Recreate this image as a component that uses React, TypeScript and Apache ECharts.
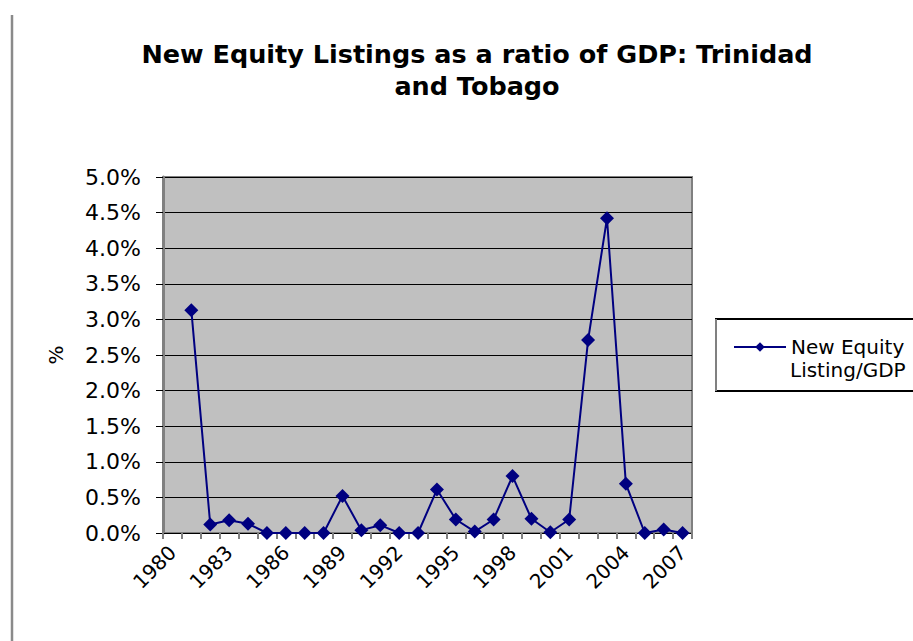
import React, { useEffect, useRef } from "react";
import * as echarts from "echarts";

// Years on the category axis
const years: string[] = [
  "1980", "1981", "1982", "1983", "1984", "1985", "1986", "1987", "1988", "1989",
  "1990", "1991", "1992", "1993", "1994", "1995", "1996", "1997", "1998", "1999",
  "2000", "2001", "2002", "2003", "2004", "2005", "2006", "2007",
];

// New equity listings as a percentage of GDP (no value for 1980)
const listingsToGdp: (number | null)[] = [
  null, 3.13, 0.12, 0.18, 0.13, 0, 0, 0, 0, 0.52,
  0.04, 0.11, 0, 0, 0.61, 0.19, 0.02, 0.19, 0.8, 0.2,
  0.01, 0.19, 2.71, 4.42, 0.69, 0, 0.05, 0,
];

const seriesName = "New Equity Listing/GDP";
const legendLines: string[] = ["New Equity", "Listing/GDP"];
const titleText = "New Equity Listings as a ratio of GDP: Trinidad\nand Tobago";

const FONT = "DejaVu Sans";

export default function App() {
  const ref = useRef<HTMLDivElement>(null);

  useEffect(() => {
    if (!ref.current) return;
    const chart = echarts.init(ref.current, null, { renderer: "svg" });
    chart.setOption({
      animation: false,
      backgroundColor: "#ffffff",
      graphic: [
        {
          type: "line",
          shape: { x1: 12, y1: 15, x2: 12, y2: 641 },
          style: { stroke: "#8a8a8a", lineWidth: 2.5 },
          silent: true,
        },
        {
          type: "text",
          x: 477,
          y: 38,
          style: {
            text: titleText,
            font: `bold 25.5px "${FONT}"`,
            fill: "#000",
            align: "center",
            verticalAlign: "top",
            lineHeight: 32,
          },
        },
        {
          type: "rect",
          shape: { x: 716, y: 319, width: 230, height: 72 },
          style: { fill: "#ffffff", stroke: "#000", lineWidth: 2 },
          z: 0,
        },
        {
          type: "line",
          shape: { x1: 716, y1: 319, x2: 716, y2: 391 },
          style: { stroke: "#808080", lineWidth: 2 },
          z: 1,
        },
        {
          type: "text",
          x: 790,
          y: 370,
          style: {
            text: legendLines[1],
            font: `20px "${FONT}"`,
            fill: "#000",
            align: "left",
            verticalAlign: "middle",
          },
          z: 5,
        },
      ],
      legend: {
        left: 733,
        top: 337,
        padding: 0,
        itemWidth: 52,
        itemHeight: 12,
        data: [seriesName],
        formatter: () => legendLines[0],
        textStyle: {
          fontFamily: FONT,
          fontSize: 20,
          color: "#000",
        },
        z: 5,
      },
      grid: {
        left: 163,
        top: 177,
        right: 221,
        bottom: 108,
        show: true,
        backgroundColor: "#c0c0c0",
        borderColor: "#808080",
        borderWidth: 2,
      },
      xAxis: {
        type: "category",
        data: years,
        boundaryGap: true,
        axisLine: { show: true, lineStyle: { color: "#000", width: 1 } },
        axisTick: {
          show: true,
          interval: 0,
          length: 6,
          lineStyle: { color: "#808080", width: 2 },
        },
        axisLabel: {
          interval: 2,
          rotate: 45,
          margin: 16,
          fontFamily: FONT,
          fontSize: 20,
          color: "#000",
        },
        splitLine: { show: false },
      },
      yAxis: {
        type: "value",
        min: 0,
        max: 5,
        interval: 0.5,
        name: "%",
        nameLocation: "middle",
        nameGap: 97,
        nameTextStyle: { fontFamily: FONT, fontSize: 20, color: "#000" },
        axisLine: { show: true, lineStyle: { color: "#808080", width: 3 } },
        axisTick: { show: true, length: 7, lineStyle: { color: "#000", width: 1 } },
        axisLabel: {
          margin: 22,
          fontFamily: FONT,
          fontSize: 22,
          color: "#000",
          formatter: (v: number) => v.toFixed(1) + "%",
        },
        splitLine: { show: true, lineStyle: { color: "#000", width: 1 } },
      },
      series: [
        {
          name: seriesName,
          type: "line",
          data: listingsToGdp,
          color: "#000080",
          symbol: "diamond",
          symbolSize: 14,
          showSymbol: true,
          showAllSymbol: true,
          lineStyle: { color: "#000080", width: 2 },
          itemStyle: { color: "#000080" },
          z: 3,
        },
      ],
    });
    return () => chart.dispose();
  }, []);

  return (
    <div
      ref={ref}
      style={{ position: "fixed", left: 0, top: 0, width: 913, height: 641 }}
    />
  );
}
